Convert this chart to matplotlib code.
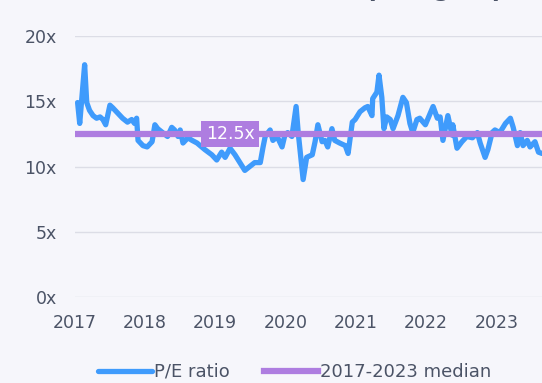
import matplotlib.pyplot as plt

# weekly-ish P/E ratio of the peer group, dates as decimal years
years = [2017.04, 2017.07, 2017.14, 2017.17, 2017.21, 2017.26, 2017.31, 2017.36, 2017.40, 2017.44,
         2017.50, 2017.54, 2017.61, 2017.68, 2017.75, 2017.81, 2017.85, 2017.88, 2017.90, 2017.97,
         2018.03, 2018.10, 2018.14, 2018.18, 2018.25, 2018.32, 2018.38, 2018.42, 2018.47, 2018.50,
         2018.54, 2018.61, 2018.67, 2018.74, 2018.85, 2018.95, 2019.02, 2019.09, 2019.14, 2019.21,
         2019.28, 2019.35, 2019.42, 2019.49, 2019.56, 2019.64, 2019.68, 2019.71, 2019.78, 2019.82,
         2019.88, 2019.95, 2019.99, 2020.03, 2020.09, 2020.15, 2020.18, 2020.25, 2020.30, 2020.38,
         2020.42, 2020.46, 2020.52, 2020.56, 2020.60, 2020.66, 2020.70, 2020.77, 2020.85, 2020.89,
         2020.95, 2020.99, 2021.06, 2021.13, 2021.17, 2021.23, 2021.24, 2021.30, 2021.33, 2021.37,
         2021.40, 2021.44, 2021.49, 2021.53, 2021.60, 2021.67, 2021.72, 2021.77, 2021.81, 2021.87,
         2021.91, 2021.99, 2022.10, 2022.16, 2022.20, 2022.24, 2022.31, 2022.37, 2022.38, 2022.44,
         2022.51, 2022.58, 2022.66, 2022.73, 2022.77, 2022.84, 2022.88, 2022.94, 2022.98, 2023.05,
         2023.13, 2023.20, 2023.24, 2023.30, 2023.34, 2023.38, 2023.44, 2023.48, 2023.55, 2023.60,
         2023.65]
pe_ratio = [14.9, 13.3, 17.8, 14.9, 14.3, 13.9, 13.7, 13.8, 13.6, 13.2,
            14.7, 14.5, 14.1, 13.7, 13.4, 13.6, 13.3, 13.7, 12.0, 11.6,
            11.5, 11.9, 13.2, 12.9, 12.6, 12.3, 13.0, 12.8, 12.3, 12.8,
            11.8, 12.2, 12.0, 11.8, 11.3, 10.9, 10.5, 11.1, 10.7, 11.4,
            10.9, 10.3, 9.7, 10.0, 10.3, 10.3, 11.5, 12.3, 12.8, 12.0,
            12.3, 11.5, 12.4, 12.6, 12.3, 14.6, 12.6, 9.0, 10.7, 10.9,
            11.9, 13.2, 11.9, 12.0, 11.5, 12.9, 12.0, 11.8, 11.6, 11.0,
            13.4, 13.6, 14.2, 14.5, 14.6, 13.9, 15.2, 15.7, 17.0, 15.3,
            12.9, 13.8, 13.6, 12.9, 13.9, 15.3, 14.9, 13.3, 12.6, 13.6,
            13.7, 13.2, 14.6, 13.7, 13.8, 12.0, 13.9, 12.4, 13.2, 11.4,
            11.9, 12.3, 12.2, 12.6, 11.8, 10.7, 11.3, 12.6, 12.8, 12.6,
            13.3, 13.7, 13.0, 11.6, 12.6, 11.6, 12.0, 11.5, 11.9, 11.1,
            11.0]
median_pe = 12.5
year_ticks = [2017, 2018, 2019, 2020, 2021, 2022, 2023]
y_ticks = [0, 5, 10, 15, 20]

bg = "#f6f6fb"
blue = "#3f9bfc"
purple = "#ae7de0"
text_col = "#4b5366"

fig = plt.figure(figsize=(5.42, 3.83), dpi=100, facecolor=bg)
ax = fig.add_axes([0.138, 0.2245, 0.862, 0.6815], facecolor=bg)

ax.plot(years, pe_ratio, color=blue, lw=3.8, solid_joinstyle="round",
        solid_capstyle="round", label="P/E ratio", zorder=3)
ax.axhline(median_pe, color=purple, lw=4.5, label="2017-2023 median", zorder=4)
ax.text(2019.21, median_pe, f"{median_pe}x", color="white", fontsize=12.5,
        ha="center", va="center", zorder=5,
        bbox=dict(boxstyle="square,pad=0.25", fc=purple, ec="none"))

ax.set_xlim(2017, 2023.65)
ax.set_ylim(0, 20)
ax.set_xticks(year_ticks)
ax.set_xticklabels([str(y) for y in year_ticks])
ax.set_yticks(y_ticks)
ax.set_yticklabels([f"{v}x" for v in y_ticks])
ax.tick_params(length=0, labelsize=12.5, colors=text_col)
ax.tick_params(axis="x", pad=12)
ax.tick_params(axis="y", pad=13)
ax.grid(axis="y", color="#dcdde6", lw=1)
ax.set_axisbelow(True)
for s in ax.spines.values():
    s.set_visible(False)

fig.legend(loc="center", bbox_to_anchor=(0.543, 0.029), ncol=2, frameon=False,
           fontsize=13, labelcolor=text_col, handlelength=3.0, handletextpad=0.1,
           columnspacing=1.9)

# chart title sits mostly above the canvas edge
fig.text(0.937, 1 + 3 / 383, "Historical P/E ratio of peer group", ha="right",
         va="baseline", fontsize=16, fontweight="bold", color=text_col)

fig.savefig("out.png", dpi=100, facecolor=bg)
